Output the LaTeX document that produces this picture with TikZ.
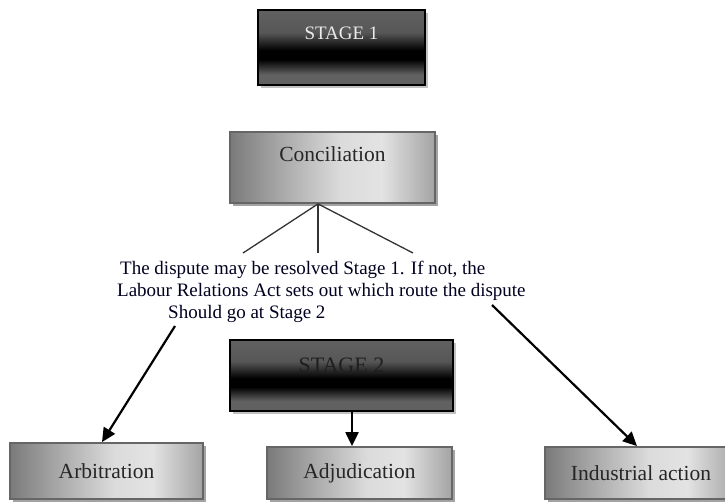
\documentclass[tikz,border=0pt]{standalone}
\usepackage{fontspec}
\setmainfont{Liberation Serif}
\usetikzlibrary{arrows.meta,shadows}

% horizontal grey gradient for the outcome boxes (box spans 25bp..75bp)
\pgfdeclarehorizontalshading{lightbox}{100bp}{%
  color(0bp)=(black!52); color(25bp)=(black!52); color(36bp)=(black!36);
  color(52bp)=(black!14); color(62bp)=(black!11); color(75bp)=(black!36);
  color(100bp)=(black!36)}

% vertical gradient for the stage boxes (bottom 25bp, top 75bp):
% grey bottom, black band below the middle, grey top
\pgfdeclareverticalshading{darkbox}{100bp}{%
  color(0bp)=(black!62); color(25bp)=(black!62); color(32bp)=(black!62);
  color(42bp)=(black); color(48bp)=(black); color(60bp)=(black!66);
  color(75bp)=(black!62); color(100bp)=(black!62)}

\tikzset{
  stagebox/.style={draw=black, line width=2pt, inner sep=0pt,
    shading=darkbox,
    drop shadow={shadow xshift=3pt, shadow yshift=-3pt, fill=black!35, opacity=.7},
    font=\fontsize{19}{22}\selectfont},
  outbox/.style={draw=black!60, line width=1.8pt, inner sep=0pt,
    shading=lightbox,
    drop shadow={shadow xshift=3pt, shadow yshift=-3pt, fill=black!45, opacity=.8},
    text=black!85, font=\fontsize{21.5}{24}\selectfont},
  note/.style={anchor=base west, inner sep=0pt, text=black!88!blue,
    font=\fontsize{19}{22}\selectfont},
  branch/.style={draw=black!80, line width=1.3pt},
  flow/.style={draw=black, line width=2.2pt,
    -{Triangle[length=14pt,width=13pt]}}
}

\begin{document}
\begin{tikzpicture}[x=1pt,y=-1pt]
\useasboundingbox (0,0) rectangle (725,502);

% stage boxes
\node[stagebox, minimum width=167pt, minimum height=75pt,
      text=black!8, text height=14pt, text depth=29pt]
  (s1) at (341.5,47.5) {STAGE 1};
\node[stagebox, minimum width=223pt, minimum height=71pt,
      text=black!88, font=\fontsize{22}{24}\selectfont,
      text height=16pt, text depth=22pt]
  (s2) at (341.5,375.5) {STAGE 2};

% conciliation
\node[outbox, minimum width=205pt, minimum height=71pt,
      text height=16pt, text depth=27pt]
  (con) at (332.5,167.5) {Conciliation};

% explanatory text
\node[note] (t1) at (120,274.5) {The dispute may be resolved Stage 1. If not, the};
\node[note] (t2) at (117,296.5) {Labour Relations Act sets out which route the dispute};
\node[note] (t3) at (168,318.5) {Should go at Stage 2};

% outcomes
\node[outbox, minimum width=193pt, minimum height=56pt] (arb) at (106.5,471) {Arbitration};
\node[outbox, minimum width=185pt, minimum height=52pt] (adj) at (359.5,473) {Adjudication};
\node[outbox, minimum width=192pt, minimum height=52pt] (ind) at (641,473) {Industrial action};

% branch points
\coordinate (c0) at ([xshift=-14.5pt]con.south);
\coordinate (bl) at (243,253);
\coordinate (bm) at (318,253);
\coordinate (br) at (413,253);
\coordinate (al) at (175,326);
\coordinate (ar) at (492,305);

\draw[branch] (c0) -- (bl);
\draw[branch] (c0) -- (bm);
\draw[branch] (c0) -- (br);

\draw[flow] (al) -- ([xshift=-4.5pt]arb.north);
\draw[flow] (ar) -- ([xshift=-4pt]ind.north);
\draw[flow] ([xshift=10.5pt]s2.south) -- ([xshift=10.5pt]s2.south |- adj.north);
\end{tikzpicture}
\end{document}
